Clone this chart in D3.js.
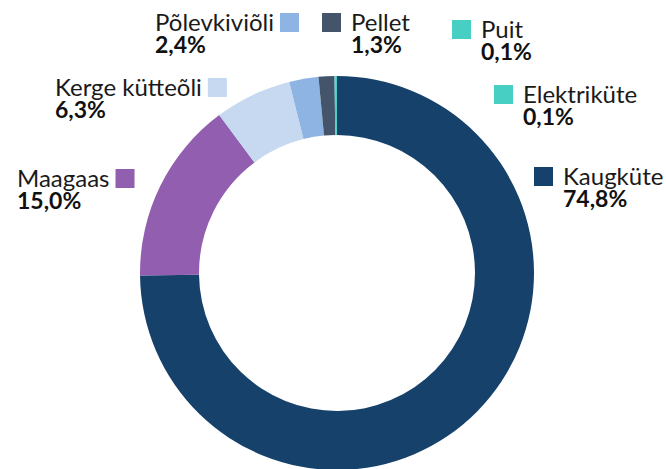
<!DOCTYPE html>
<head>
    <meta charset='utf-8'>
    <style>
        body {
            margin: 0;
            font-family: Lato, 'Noto Sans', sans-serif;
            background: #fff;
        }
        .name {
            font-size: 24px;
            fill: #1a1a1a;
        }
        .value {
            font-size: 23px;
            font-weight: bold;
            fill: #111;
        }
    </style>
</head>

<body>
<div id='vis'></div>
<script src='https://d3js.org/d3.v7.min.js'></script>
<script>
  const width = 666,
    height = 469

  // andmed (kellaosuti suunas alates ülevalt)
  const categories = ['Kaugküte', 'Maagaas', 'Kerge kütteõli', 'Põlevkiviõli', 'Pellet', 'Puit', 'Elektriküte']
  const shares = [74.8, 15.0, 6.3, 2.4, 1.3, 0.1, 0.1]
  const shareLabels = ['74,8%', '15,0%', '6,3%', '2,4%', '1,3%', '0,1%', '0,1%']
  const colors = ['#15416b', '#915eb0', '#c6d9f1', '#8eb4e3', '#44546a', '#48cfc4', '#48cfc4']

  // siltide asukohad: textFirst = tekst enne ruutu
  const labelPos = [
    {x: 534, y: 185, textFirst: false},
    {x: 17, y: 187, textFirst: true},
    {x: 55, y: 96, textFirst: true},
    {x: 155, y: 31, textFirst: true},
    {x: 322, y: 31, textFirst: false},
    {x: 452, y: 38, textFirst: false},
    {x: 494, y: 103, textFirst: false}
  ]

  const cx = 337, cy = 273
  const outerR = 197, innerR = 138
  const box = 19

  const svg = d3.select('#vis')
    .append('svg')
    .attr('width', width)
    .attr('height', height)

  const pie = d3.pie()
    .sort(null)
    .value(d => d)

  const arc = d3.arc()
    .innerRadius(innerR)
    .outerRadius(outerR)

  const donut = svg.append('g')
    .attr('transform', `translate(${cx}, ${cy})`)

  donut.selectAll('path')
    .data(pie(shares))
    .enter()
    .append('path')
    .attr('d', arc)
    .attr('fill', (d, i) => colors[i])

  // sildid
  const labels = svg.append('g')
    .selectAll('g')
    .data(categories)
    .enter()
    .append('g')

  labels.each(function(name, i) {
    const g = d3.select(this)
    const p = labelPos[i]
    const textX = p.textFirst ? p.x : p.x + box + 10

    const t = g.append('text')
      .attr('class', 'name')
      .attr('x', textX)
      .attr('y', p.y)
      .text(name)

    g.append('text')
      .attr('class', 'value')
      .attr('x', textX)
      .attr('y', p.y + 22)
      .text(shareLabels[i])

    const boxX = p.textFirst ? textX + t.node().getComputedTextLength() + 6 : p.x
    g.append('rect')
      .attr('x', boxX)
      .attr('y', p.y - box + 1)
      .attr('width', box)
      .attr('height', box)
      .attr('fill', colors[i])
  })
</script>
</body>
